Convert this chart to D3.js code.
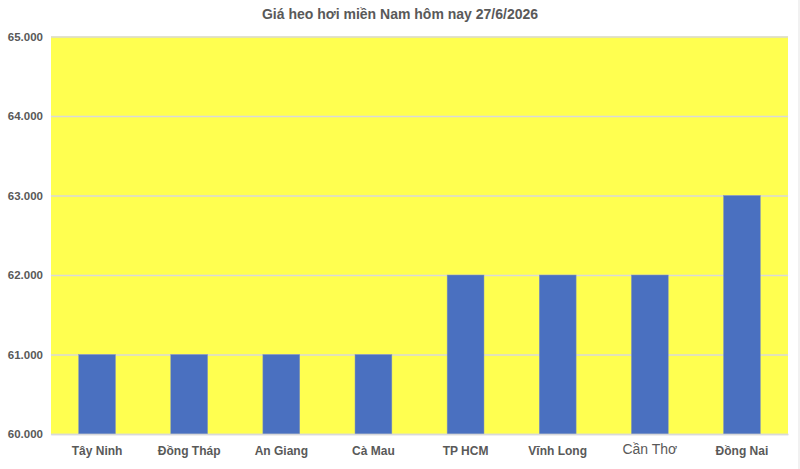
<!DOCTYPE html>
<html>
<head>
<meta charset="utf-8">
<script src="https://cdn.jsdelivr.net/npm/d3@7"></script>
<style>
  body { margin: 0; background: #fff; }
  svg { display: block; font-family: "Liberation Sans", Arial, sans-serif; }
</style>
</head>
<body>
<div id="chart"></div>
<script>
// ── Data ──────────────────────────────────────────────
const provinces = ['Tây Ninh', 'Đồng Tháp', 'An Giang', 'Cà Mau', 'TP HCM', 'Vĩnh Long', 'Cần Thơ', 'Đồng Nai'];
const prices = [61000, 61000, 61000, 61000, 62000, 62000, 62000, 63000];
const yTicks = [60000, 61000, 62000, 63000, 64000, 65000];
const title = 'Giá heo hơi miền Nam hôm nay 27/6/2026';

const width = 800, height = 469;
const margin = { top: 36.5, right: 12, bottom: 35, left: 51 };

const vn = d3.formatLocale({ decimal: ',', thousands: '.', grouping: [3], currency: ['', ' đ'] });
const fmt = vn.format(',.0f');

const svg = d3.select('#chart').append('svg')
  .attr('width', width)
  .attr('height', height);

// faint frame like the spreadsheet screenshot
svg.append('line')
  .attr('x1', width - 1).attr('x2', width - 1)
  .attr('y1', 0).attr('y2', height)
  .attr('stroke', '#e3e3e3');

const x = d3.scaleBand()
  .domain(provinces)
  .range([margin.left, width - margin.right])
  .paddingInner(0.6)
  .paddingOuter(0.3);

const y = d3.scaleLinear()
  .domain([60000, 65000])
  .range([height - margin.bottom, margin.top]);

// plot area fill
svg.append('rect')
  .attr('x', margin.left)
  .attr('y', margin.top)
  .attr('width', width - margin.left - margin.right)
  .attr('height', height - margin.top - margin.bottom)
  .attr('fill', '#ffff50');

// gridlines + y labels
const yAxis = svg.append('g')
  .attr('transform', `translate(${margin.left},0)`)
  .call(d3.axisLeft(y).tickValues(yTicks).tickFormat(fmt)
    .tickSize(-(width - margin.left - margin.right)).tickPadding(8));
yAxis.select('.domain').remove();
yAxis.selectAll('.tick line').attr('stroke', '#d9d9d9').attr('stroke-width', 1.3);
yAxis.selectAll('.tick text')
  .attr('fill', '#595959')
  .attr('font-size', 11.5)
  .attr('font-weight', 'bold');

// bars
svg.append('g').selectAll('rect')
  .data(provinces.map((p, i) => ({ p, v: prices[i] })))
  .join('rect')
  .attr('x', d => x(d.p))
  .attr('y', d => y(d.v))
  .attr('width', x.bandwidth())
  .attr('height', d => y(60000) - y(d.v))
  .attr('fill', '#4a70c0')
  .attr('stroke', '#8a98b8')
  .attr('stroke-width', 0.5);

// x labels
const xAxis = svg.append('g')
  .attr('transform', `translate(0,${y(60000)})`)
  .call(d3.axisBottom(x).tickSize(0).tickPadding(12));
xAxis.select('.domain').attr('stroke', '#d9d9d9').attr('stroke-width', 1.3);
xAxis.selectAll('.tick text')
  .attr('fill', '#595959')
  .attr('font-size', d => d === 'Cần Thơ' ? 14 : 12)
  .attr('font-weight', d => d === 'Cần Thơ' ? 'normal' : 'bold')
  .attr('dy', d => d === 'Cần Thơ' ? '0.6em' : '0.71em');

// title
svg.append('text')
  .attr('x', 400)
  .attr('y', 19)
  .attr('text-anchor', 'middle')
  .attr('fill', '#595959')
  .attr('font-size', 14)
  .attr('font-weight', 'bold')
  .text(title);
</script>
</body>
</html>
